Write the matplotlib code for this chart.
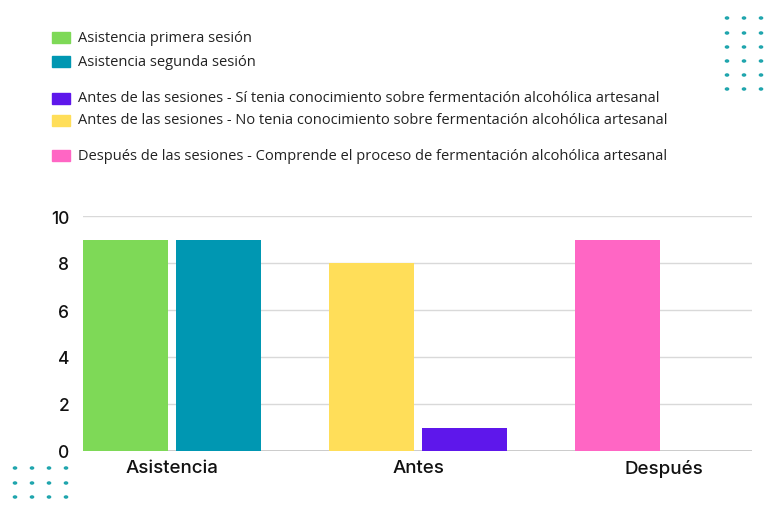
import matplotlib
matplotlib.use("Agg")
import matplotlib.pyplot as plt
from matplotlib.patches import Rectangle
import numpy as np

categories = ["Asistencia", "Antes", "Después"]
left_values = [9, 8, 9]
right_values = [9, 1, 0]
left_colors = ["#7ed957", "#ffde59", "#ff66c4"]
right_colors = ["#0097b2", "#5e17eb", "#5e17eb"]
yticks = [0, 2, 4, 6, 8, 10]

legend_labels = [
    "Asistencia primera sesión",
    "Asistencia segunda sesión",
    "Antes de las sesiones - Sí tenia conocimiento sobre fermentación alcohólica artesanal",
    "Antes de las sesiones - No tenia conocimiento sobre fermentación alcohólica artesanal",
    "Después de las sesiones - Comprende el proceso de fermentación alcohólica artesanal",
]
legend_colors = ["#7ed957", "#0097b2", "#5e17eb", "#ffde59", "#ff66c4"]

W, H = 773, 510
fig = plt.figure(figsize=(W / 100, H / 100), dpi=100)
ax = fig.add_axes([83 / W, 58 / H, (752 - 83) / W, (452 - 217) / H])

x = np.arange(len(categories))
width = 0.345
off = 0.19
ax.bar(x - off, left_values, width, color=left_colors, zorder=3)
ax.bar(x + off, right_values, width, color=right_colors, zorder=3)

ax.set_xlim(-0.362, 2.358)
ax.set_ylim(0, 10)
ax.set_yticks(yticks)
ax.set_xticks(x)
ax.set_xticklabels(categories)
for s in ax.spines.values():
    s.set_visible(False)
ax.grid(axis="y", color="#d9d9d9", linewidth=1.0, zorder=0)
ax.axhline(0, color="#c4c4c4", linewidth=1.2, zorder=2)
ax.tick_params(axis="both", length=0, colors="#111111")
ax.tick_params(axis="y", pad=10, labelsize=12.5)
ax.tick_params(axis="x", pad=6, labelsize=13.5)
for lab in ax.get_xticklabels() + ax.get_yticklabels():
    lab.set_fontfamily("Inter")
    lab.set_fontweight("medium")

# legend drawn manually
leg_y = [38, 62, 99, 121, 156]
for yy, lab, col in zip(leg_y, legend_labels, legend_colors):
    fig.patches.append(Rectangle((52 / W, 1 - (yy + 6) / H), 18 / W, 11 / H,
                                 transform=fig.transFigure, color=col))
    fig.text(78 / W, 1 - yy / H, lab, fontsize=10.55, family="Open Sans",
             color="#222222", va="center", ha="left")

# decorative dots
dot_color = "#1fa5ad"
for cx in [727, 744, 761]:
    for cy in [19, 34, 48, 62, 76, 90]:
        fig.patches.append(plt.Circle((cx / W, 1 - cy / H), 1.6 / W,
                                      transform=fig.transFigure, color=dot_color))
for cx in [15, 32, 49, 66]:
    for cy in [469, 484, 498]:
        fig.patches.append(plt.Circle((cx / W, 1 - cy / H), 1.6 / W,
                                      transform=fig.transFigure, color=dot_color))

fig.savefig("out.png", dpi=100)
